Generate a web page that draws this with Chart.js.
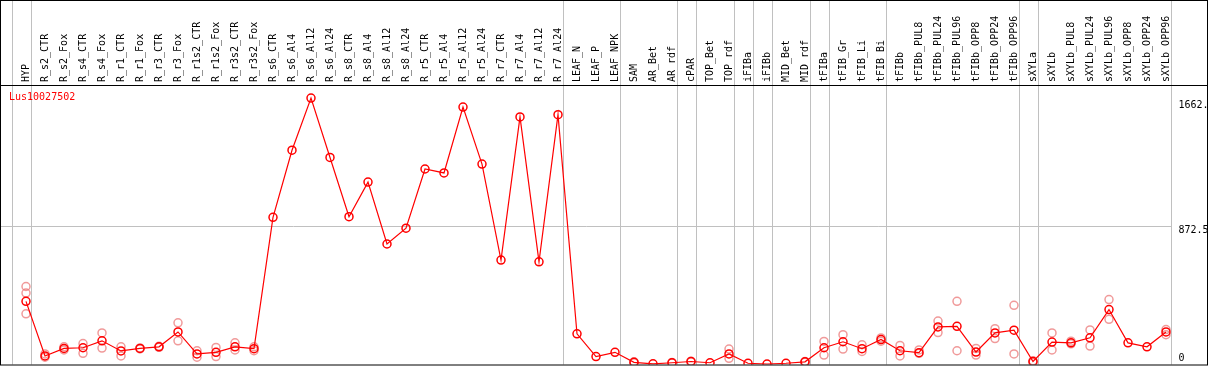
<!DOCTYPE html>
<html>
<head>
<meta charset="utf-8">
<script src="https://cdn.jsdelivr.net/npm/chart.js@4.4.1/dist/chart.umd.min.js"></script>
<style>
  html, body { margin: 0; padding: 0; background: #fff; }
  #wrap { width: 1209px; height: 370px; position: relative; }
</style>
</head>
<body>
<div id="wrap"><canvas id="exprChart"></canvas></div>
<script>
/* expression profile for one gene across tissues / treatments */

const geneName = 'Lus10027502';

const categories = [
  'HYP', 'R_s2_CTR', 'R_s2_Fox', 'R_s4_CTR', 'R_s4_Fox', 'R_r1_CTR', 'R_r1_Fox',
  'R_r3_CTR', 'R_r3_Fox', 'R_r1s2_CTR', 'R_r1s2_Fox', 'R_r3s2_CTR', 'R_r3s2_Fox',
  'R_s6_CTR', 'R_s6_Al4', 'R_s6_Al12', 'R_s6_Al24', 'R_s8_CTR', 'R_s8_Al4',
  'R_s8_Al12', 'R_s8_Al24', 'R_r5_CTR', 'R_r5_Al4', 'R_r5_Al12', 'R_r5_Al24',
  'R_r7_CTR', 'R_r7_Al4', 'R_r7_Al12', 'R_r7_Al24', 'LEAF_N', 'LEAF_P', 'LEAF_NPK',
  'SAM', 'AR_Bet', 'AR_rdf', 'cPAR', 'TOP_Bet', 'TOP_rdf', 'iFIBa', 'iFIBb',
  'MID_Bet', 'MID_rdf', 'tFIBa', 'tFIB_Gr', 'tFIB_Li', 'tFIB_Bi', 'tFIBb',
  'tFIBb_PUL8', 'tFIBb_PUL24', 'tFIBb_PUL96', 'tFIBb_OPP8', 'tFIBb_OPP24', 'tFIBb_OPP96',
  'sXYLa', 'sXYLb', 'sXYLb_PUL8', 'sXYLb_PUL24', 'sXYLb_PUL96', 'sXYLb_OPP8',
  'sXYLb_OPP24', 'sXYLb_OPP96'
];

const meanValues = [
  397, 51, 99, 103, 147, 83, 99,
  109, 203, 64, 74, 109, 97,
  929, 1354, 1684, 1308, 933, 1152,
  760, 860, 1235, 1210, 1627, 1266,
  658, 1565, 647, 1579, 191, 47, 74,
  11, 1, 8, 16, 8, 64, 5, 0,
  5, 14, 103, 141, 97, 155, 84,
  72, 235, 239, 76, 197, 214,
  16, 139, 134, 166, 345, 134,
  109, 203
];

// individual replicates, same order as categories
const replicates = [
  [491, 449, 318], [64, 43], [109, 89], [130, 68], [197, 101], [109, 51], [102, 96],
  [112, 106], [261, 147], [84, 43], [105, 47], [134, 89], [109, 84],
  [], [], [], [], [], [],
  [], [], [], [], [], [],
  [], [], [], [], [], [], [],
  [14, 8], [], [10, 6], [18, 14], [], [95, 36], [], [],
  [], [16, 12], [143, 57], [186, 95], [122, 80], [165, 145], [118, 51],
  [89, 68], [272, 199], [397, 84], [99, 57], [224, 161], [372, 64],
  [20, 10], [197, 89], [145, 128], [216, 114], [408, 283], [],
  [], [218, 186]
];

// group separators sit after these category indices
const groupBreaks = [-1, 0, 28, 31, 34, 35, 37, 38, 39, 41, 42, 45, 52, 53, 60];

const yTicks = [0, 872.5, 1662];
const yTickLabels = ['0', '872.5', '1662.'];
const yGridValues = [872.5];

const FONT = '10px "DejaVu Sans Mono", "Liberation Mono", monospace';

const repPoints = [];
replicates.forEach((reps, i) => {
  reps.forEach(v => repPoints.push({ x: categories[i], y: v }));
});

const framePlugin = {
  id: 'frame',
  beforeDatasetsDraw(chart) {
    const { ctx, chartArea, scales } = chart;
    const xs = scales.x, ys = scales.y;
    const step = xs.getPixelForValue(1) - xs.getPixelForValue(0);
    ctx.save();
    ctx.strokeStyle = '#c0c0c0';
    ctx.lineWidth = 1;
    // group separators
    groupBreaks.forEach(i => {
      const x = Math.round(xs.getPixelForValue(0) + (i + 0.24) * step) + 0.5;
      ctx.beginPath();
      ctx.moveTo(x, 0);
      ctx.lineTo(x, chartArea.bottom);
      ctx.stroke();
    });
    // horizontal guide
    const xEnd = Math.round(xs.getPixelForValue(0) + (60.24) * step) + 0.5;
    yGridValues.forEach(v => {
      const y = Math.round(ys.getPixelForValue(v)) + 0.5;
      ctx.beginPath();
      ctx.moveTo(1, y);
      ctx.lineTo(xEnd, y);
      ctx.stroke();
    });
    ctx.restore();
  },
  afterDraw(chart) {
    const { ctx, chartArea, scales } = chart;
    const ys = scales.y;
    ctx.save();
    ctx.strokeStyle = '#000';
    ctx.lineWidth = 1;
    ctx.strokeRect(0.5, 0.5, 1207, chartArea.bottom);
    ctx.beginPath();
    ctx.moveTo(0, Math.round(chartArea.top) + 0.5);
    ctx.lineTo(1208, Math.round(chartArea.top) + 0.5);
    ctx.stroke();

    ctx.font = FONT;
    ctx.textBaseline = 'middle';
    ctx.textAlign = 'left';
    ctx.fillStyle = '#000';
    yTicks.forEach((v, i) => {
      const y = Math.min(ys.getPixelForValue(v) + 4, chartArea.bottom - 6);
      ctx.fillText(yTickLabels[i], chartArea.right + 3, y);
    });

    ctx.fillStyle = '#ff0000';
    ctx.fillText(geneName, 9, chartArea.top + 12);
    ctx.restore();
  }
};

new Chart(document.getElementById('exprChart'), {
  type: 'line',
  data: {
    labels: categories,
    datasets: [
      {
        label: geneName,
        data: meanValues,
        borderColor: '#ff0000',
        borderWidth: 1.2,
        pointRadius: 4,
        pointBorderWidth: 1.5,
        pointBorderColor: '#ff0000',
        pointBackgroundColor: 'rgba(0,0,0,0)',
        tension: 0,
        fill: false
      },
      {
        label: 'replicates',
        data: repPoints,
        showLine: false,
        pointRadius: 4,
        pointBorderWidth: 1.5,
        pointBorderColor: 'rgba(235,120,120,0.75)',
        pointBackgroundColor: 'rgba(0,0,0,0)'
      }
    ]
  },
  options: {
    responsive: true,
    maintainAspectRatio: false,
    animation: false,
    devicePixelRatio: 1,
    layout: { padding: { left: 16.5, right: 0, top: 0, bottom: 2 } },
    plugins: {
      legend: { display: false },
      tooltip: { enabled: false },
      title: { display: false }
    },
    scales: {
      x: {
        type: 'category',
        position: 'top',
        offset: true,
        grid: { display: false, drawTicks: false },
        border: { display: false },
        ticks: {
          autoSkip: false,
          minRotation: 90,
          maxRotation: 90,
          padding: 3,
          labelOffset: 12.5,
          color: '#000',
          font: { family: '"DejaVu Sans Mono", "Liberation Mono", monospace', size: 10 }
        },
        afterFit(scale) { scale.height = 85; }
      },
      y: {
        position: 'right',
        min: -3,
        max: 1767,
        grid: { display: false, drawTicks: false },
        border: { display: false },
        ticks: { display: false },
        afterFit(scale) { scale.width = 33.5; }
      }
    }
  },
  plugins: [framePlugin]
});
</script>
</body>
</html>
